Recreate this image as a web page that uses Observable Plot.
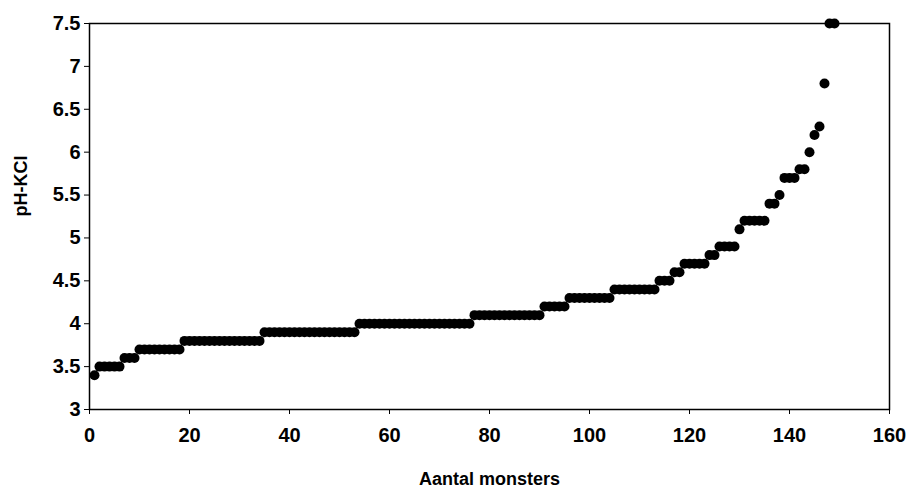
<!DOCTYPE html>
<html>
<head>
<meta charset="utf-8">
<script src="https://cdn.jsdelivr.net/npm/d3@7"></script>
<script src="https://cdn.jsdelivr.net/npm/@observablehq/plot@0.6"></script>
<style>
  html, body { margin: 0; padding: 0; background: #fff; }
  #chart { width: 911px; height: 495px; }
  svg { font-family: "Liberation Sans", Arial, sans-serif; }
</style>
</head>
<body>
<div id="chart"></div>
<script>
// pH-KCl values, sorted, one per sample (sample number = position 1..N)
const phKCl = [
  3.4,
  3.5, 3.5, 3.5, 3.5, 3.5,
  3.6, 3.6, 3.6,
  3.7, 3.7, 3.7, 3.7, 3.7, 3.7, 3.7, 3.7, 3.7,
  3.8, 3.8, 3.8, 3.8, 3.8, 3.8, 3.8, 3.8, 3.8, 3.8, 3.8, 3.8, 3.8, 3.8, 3.8, 3.8,
  3.9, 3.9, 3.9, 3.9, 3.9, 3.9, 3.9, 3.9, 3.9, 3.9, 3.9, 3.9, 3.9, 3.9, 3.9, 3.9, 3.9, 3.9, 3.9,
  4.0, 4.0, 4.0, 4.0, 4.0, 4.0, 4.0, 4.0, 4.0, 4.0, 4.0, 4.0, 4.0, 4.0, 4.0, 4.0, 4.0, 4.0, 4.0, 4.0, 4.0, 4.0, 4.0,
  4.1, 4.1, 4.1, 4.1, 4.1, 4.1, 4.1, 4.1, 4.1, 4.1, 4.1, 4.1, 4.1, 4.1,
  4.2, 4.2, 4.2, 4.2, 4.2,
  4.3, 4.3, 4.3, 4.3, 4.3, 4.3, 4.3, 4.3, 4.3,
  4.4, 4.4, 4.4, 4.4, 4.4, 4.4, 4.4, 4.4, 4.4,
  4.5, 4.5, 4.5,
  4.6, 4.6,
  4.7, 4.7, 4.7, 4.7, 4.7,
  4.8, 4.8,
  4.9, 4.9, 4.9, 4.9,
  5.1,
  5.2, 5.2, 5.2, 5.2, 5.2,
  5.4, 5.4,
  5.5,
  5.7, 5.7, 5.7,
  5.8, 5.8,
  6.0,
  6.2,
  6.3,
  6.8,
  7.5, 7.5
];
const xTicks = [0, 20, 40, 60, 80, 100, 120, 140, 160];
const yTicks = [3, 3.5, 4, 4.5, 5, 5.5, 6, 6.5, 7, 7.5];
const xLabel = "Aantal monsters";
const yLabel = "pH-KCl";

const samples = phKCl.map((v, i) => ({n: i + 1, ph: v}));

const chart = Plot.plot({
  width: 911,
  height: 495,
  marginLeft: 89,
  marginRight: 22,
  marginTop: 23,
  marginBottom: 86,
  style: {fontFamily: "'Liberation Sans', Arial, sans-serif", fontSize: "20px", fontWeight: "bold", color: "#000", background: "#fff"},
  x: {domain: [0, 160], label: null},
  y: {domain: [3, 7.5], label: null},
  marks: [
    Plot.frame({stroke: "#000", strokeWidth: 1.5}),
    Plot.axisX({ticks: xTicks, tickSize: 5, tickPadding: 13, label: null, fontSize: 20, fontWeight: "bold"}),
    Plot.axisY({ticks: yTicks, tickSize: 5, tickPadding: 4, label: null, tickFormat: d => String(d), fontSize: 20, fontWeight: "bold"}),
    Plot.dot(samples, {x: "n", y: "ph", r: 5, fill: "#000", stroke: "none"}),
    Plot.text([xLabel], {frameAnchor: "bottom", dy: 75, fontSize: 18, fontWeight: "bold", text: d => d}),
    Plot.text([yLabel], {frameAnchor: "left", dx: -68, rotate: -90, fontSize: 18, fontWeight: "bold", text: d => d})
  ]
});
document.getElementById("chart").appendChild(chart);
</script>
</body>
</html>
